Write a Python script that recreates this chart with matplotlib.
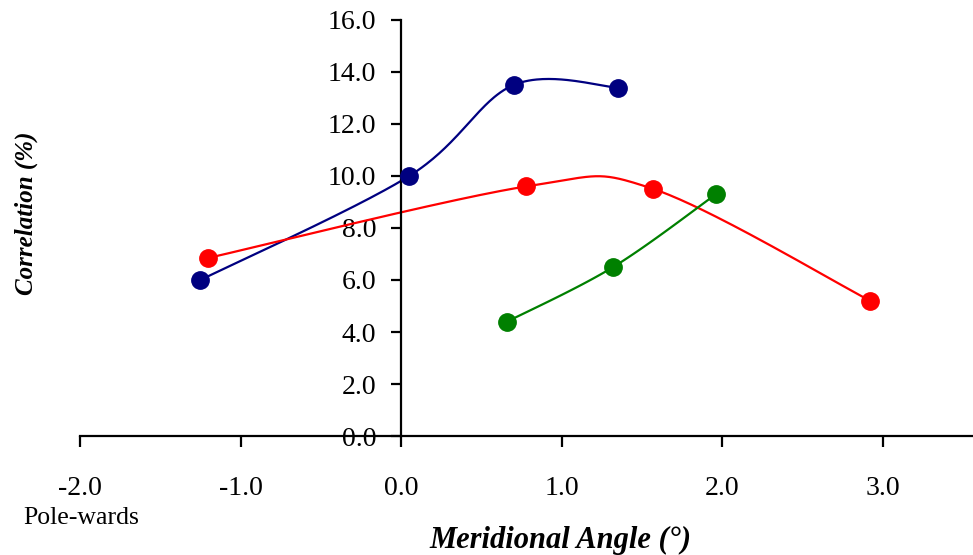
import numpy as np
import matplotlib
matplotlib.use("Agg")
import matplotlib.pyplot as plt
from matplotlib.ticker import FormatStrFormatter

plt.rcParams['font.family'] = ['Liberation Serif', 'DejaVu Serif']

# data
blue_x = [-1.25, 0.05, 0.70, 1.35]
blue_y = [6.0, 10.0, 13.5, 13.4]
red_x = [-1.20, 0.78, 1.57, 2.92]
red_y = [6.85, 9.6, 9.5, 5.2]
green_x = [0.66, 1.32, 1.96]
green_y = [4.4, 6.5, 9.3]

x_ticks = [-2.0, -1.0, 0.0, 1.0, 2.0, 3.0]
y_ticks = [0, 2, 4, 6, 8, 10, 12, 14, 16]


def smooth(xs, ys, n=60):
    # excel-like smoothed line: cubic bezier with neighbour based control points
    p = np.column_stack([xs, ys]).astype(float)
    pts = []
    for i in range(len(p) - 1):
        prev = p[i - 1] if i > 0 else p[i]
        nxt = p[i + 2] if i + 2 < len(p) else p[i + 1]
        c1 = p[i] + (p[i + 1] - prev) / 6.0
        c2 = p[i + 1] - (nxt - p[i]) / 6.0
        t = np.linspace(0, 1, n)[:, None]
        seg = ((1 - t) ** 3 * p[i] + 3 * (1 - t) ** 2 * t * c1
               + 3 * (1 - t) * t ** 2 * c2 + t ** 3 * p[i + 1])
        pts.append(seg)
    pts = np.vstack(pts)
    return pts[:, 0], pts[:, 1]


fig = plt.figure(figsize=(9.73, 5.55), dpi=100)
ax = fig.add_axes([0.0822, 0.2144, 0.9178, 0.7496])

for xs, ys, col in [(blue_x, blue_y, '#000080'),
                    (red_x, red_y, '#FF0000'),
                    (green_x, green_y, '#008000')]:
    sx, sy = smooth(xs, ys)
    ax.plot(sx, sy, color=col, lw=1.6, zorder=2)
    ax.plot(xs, ys, 'o', color=col, ms=12.5, zorder=3)

ax.set_xlim(-2.0, 3.56)
ax.set_ylim(0, 16)
ax.spines['left'].set_position(('data', 0))
ax.spines['bottom'].set_position(('data', 0))
ax.spines['top'].set_visible(False)
ax.spines['right'].set_visible(False)
for s in ['left', 'bottom']:
    ax.spines[s].set_linewidth(1.6)

ax.set_xticks(x_ticks)
ax.set_yticks(y_ticks)
ax.xaxis.set_major_formatter(FormatStrFormatter('%.1f'))
ax.yaxis.set_major_formatter(FormatStrFormatter('%.1f'))
ax.tick_params(axis='x', direction='out', length=8, width=1.6, pad=21, labelsize=20)
ax.tick_params(axis='y', direction='out', length=7, width=1.6, pad=11, labelsize=20)

fig.text(0.083, 0.066, 'Pole-wards', ha='center', va='center', fontsize=18.5)
fig.text(0.576, 0.027, 'Meridional Angle (°)', ha='center', va='center',
         fontsize=22, fontweight='bold', style='italic')
fig.text(0.027, 0.615, 'Correlation (%)', ha='center', va='center', rotation=90,
         fontsize=18, fontweight='bold', style='italic')

fig.savefig('out.png', dpi=100)
